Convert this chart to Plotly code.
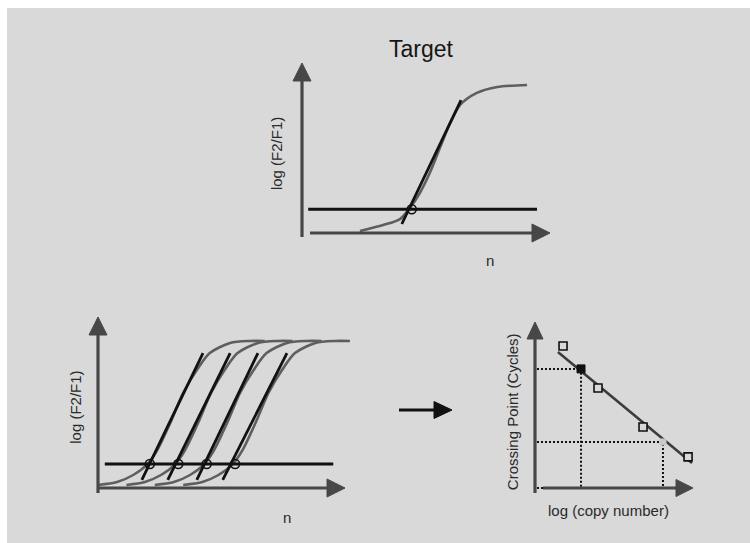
import plotly.graph_objects as go

W, H = 750, 543
FONT = "Liberation Sans, Arial, sans-serif"
BG = "#d9d9d9"
AXIS_C = "#474747"
CURVE_C = "#5e5e5e"
INK = "#111111"

# ---------------- data ----------------
# Upper panel: amplification curve of the target (cycle n vs log(F2/F1))
target_n = [9.35, 13.1, 15.8, 17.4, 19.0, 20.6, 22.3, 23.9, 25.5, 28.2, 31.5, 36.3]
target_f = [0.012, 0.047, 0.082, 0.147, 0.235, 0.353, 0.506, 0.647, 0.753, 0.824, 0.859, 0.871]
target_tangent_n = [16.1, 25.65]
target_tangent_f = [0.053, 0.782]
target_threshold = 0.14
target_threshold_n = [1.0, 37.9]
target_cp = 17.7

# Lower-left panel: dilution series of standards
std_curve_f = [0.018, 0.035, 0.076, 0.135, 0.222, 0.380, 0.556, 0.690, 0.789, 0.848, 0.860, 0.860]
std1_n = [0.0, 3.1, 5.7, 7.9, 9.6, 11.7, 13.8, 16.0, 18.1, 21.4, 24.6, 27.0]
std2_n = [4.6, 7.6, 10.2, 12.4, 14.1, 16.2, 18.3, 20.5, 22.6, 25.9, 29.1, 31.5]
std3_n = [9.2, 12.3, 14.9, 17.1, 18.8, 20.9, 23.0, 25.2, 27.3, 30.6, 33.8, 36.2]
std4_n = [13.8, 16.9, 19.5, 21.7, 23.4, 25.5, 27.6, 29.8, 31.9, 35.2, 38.4, 40.8]
std_tangent_f = [0.047, 0.789]
std1_tangent_n = [7.1, 17.0]
std2_tangent_n = [11.3, 21.4]
std3_tangent_n = [16.0, 25.9]
std4_tangent_n = [20.2, 30.6]
std_threshold = 0.14
std_threshold_n = [1.1, 38.1]
std_cp = [8.4, 13.0, 17.6, 22.2]

# Lower-right panel: standard curve (crossing point vs log copy number)
std_logc = [1.42, 3.19, 5.47, 7.75]
std_cp_cycles = [34.2, 24.1, 14.7, 7.5]
fit_logc = [1.16, 7.95]
fit_cp = [32.8, 6.0]
target_logc = 2.33
target_cp_cycles = 28.7
sample_logc = 6.48
sample_cp_cycles = 11.1

# ---------------- panel geometry (pixel origin + px per unit) ----------------
PANELS = {
    "top": dict(xa="x", ya="y", ox=302, oy=233, sx=6.2, sy=170.0),
    "left": dict(xa="x2", ya="y2", ox=98, oy=488, sx=6.175, sy=171.0),
    "right": dict(xa="x3", ya="y3", ox=535, oy=488, sx=19.75, sy=4.15),
}


def axis_ranges(p):
    xr = [-p["ox"] / p["sx"], (W - p["ox"]) / p["sx"]]
    yr = [(p["oy"] - H) / p["sy"], p["oy"] / p["sy"]]
    return xr, yr


fig = go.Figure()
shapes = []
annotations = []

# background panel with a thin white edge at top and left
shapes.append(dict(type="rect", xref="paper", yref="paper", x0=7 / W, x1=1.0,
                   y0=0.0, y1=1 - 8 / H, fillcolor=BG, line=dict(width=0),
                   layer="below"))


def arrow_axis(p, x0, y0, x1, y1, direction, color=AXIS_C, width=3.2, head=(18, 18)):
    """Axis line with a solid triangular head at (x1, y1)."""
    L, Wd = head
    back = L - 6
    if direction == "up":
        ye = y1 - back / p["sy"]
        xe = x1
        path = f"M0,0 L{-Wd/2},{-L} L{Wd/2},{-L} Z"
    else:
        xe = x1 - back / p["sx"]
        ye = y1
        path = f"M0,0 L{-L},{Wd/2} L{-L},{-Wd/2} Z"
    shapes.append(dict(type="line", xref=p["xa"], yref=p["ya"], x0=x0, y0=y0,
                       x1=xe, y1=ye, line=dict(color=color, width=width)))
    shapes.append(dict(type="path", xref=p["xa"], yref=p["ya"],
                       xsizemode="pixel", ysizemode="pixel",
                       xanchor=x1, yanchor=y1, path=path,
                       fillcolor=color, line=dict(color=color, width=1)))


def line_trace(p, x, y, color, width, dash=None, shape="linear"):
    fig.add_trace(go.Scatter(x=x, y=y, mode="lines", xaxis=p["xa"], yaxis=p["ya"],
                             line=dict(color=color, width=width, dash=dash, shape=shape,
                                       smoothing=0.8),
                             hoverinfo="skip"))


def label(p, x, y, text, size=15, angle=0, color="#2a2a2a"):
    annotations.append(dict(x=x, y=y, xref=p["xa"], yref=p["ya"], text=text,
                            showarrow=False, textangle=angle,
                            font=dict(family=FONT, size=size, color=color),
                            xanchor="center", yanchor="middle"))


# ---------------- top panel ----------------
P = PANELS["top"]
line_trace(P, target_n, target_f, CURVE_C, 2.6, shape="spline")
line_trace(P, target_threshold_n, [target_threshold] * 2, INK, 3)
line_trace(P, target_tangent_n, target_tangent_f, INK, 2.8)
fig.add_trace(go.Scatter(x=[target_cp], y=[target_threshold], mode="markers",
                         xaxis=P["xa"], yaxis=P["ya"], hoverinfo="skip",
                         marker=dict(symbol="circle-open", size=9,
                                     line=dict(color=INK, width=1.6), color=INK)))
arrow_axis(P, 0, -4 / P["sy"], 0, 1.0, "up")
arrow_axis(P, 8 / P["sx"], 0, 40, 0, "right")
label(P, -4.2, 0.47, "log (F2/F1)", angle=-90)
label(P, 30.3, -0.16, "n")
label(P, 19.35, 1.085, "Target", size=23, color="#161616")

# ---------------- lower-left panel ----------------
P = PANELS["left"]
for xs in (std1_n, std2_n, std3_n, std4_n):
    line_trace(P, xs, std_curve_f, CURVE_C, 2.6, shape="spline")
line_trace(P, std_threshold_n, [std_threshold] * 2, INK, 3)
for tn in (std1_tangent_n, std2_tangent_n, std3_tangent_n, std4_tangent_n):
    line_trace(P, tn, std_tangent_f, INK, 2.8)
fig.add_trace(go.Scatter(x=std_cp, y=[std_threshold] * len(std_cp), mode="markers",
                         xaxis=P["xa"], yaxis=P["ya"], hoverinfo="skip",
                         marker=dict(symbol="circle-open", size=9,
                                     line=dict(color=INK, width=1.6), color=INK)))
arrow_axis(P, 0, -5 / P["sy"], 0, 1.0, "up")
arrow_axis(P, 0, 0, 40, 0, "right")
label(P, -3.7, 0.47, "log (F2/F1)", angle=-90)
label(P, 30.6, -0.175, "n")

# ---------------- lower-right panel ----------------
P = PANELS["right"]
dot = "2px,2px"
line_trace(P, [0.1, target_logc, target_logc],
           [target_cp_cycles, target_cp_cycles, 0], INK, 2, dash=dot)
line_trace(P, [0.1, sample_logc, sample_logc, 0.1],
           [sample_cp_cycles, sample_cp_cycles, 0, 0], INK, 2, dash=dot)
line_trace(P, fit_logc, fit_cp, "#3c3c3c", 2.6)
fig.add_trace(go.Scatter(x=std_logc, y=std_cp_cycles, mode="markers",
                         xaxis=P["xa"], yaxis=P["ya"], hoverinfo="skip",
                         marker=dict(symbol="square", size=8, color=BG,
                                     line=dict(color=INK, width=1.6))))
fig.add_trace(go.Scatter(x=[target_logc], y=[target_cp_cycles], mode="markers",
                         xaxis=P["xa"], yaxis=P["ya"], hoverinfo="skip",
                         marker=dict(symbol="square", size=8, color=INK,
                                     line=dict(color=INK, width=1))))
fig.add_trace(go.Scatter(x=[sample_logc], y=[sample_cp_cycles], mode="markers",
                         xaxis=P["xa"], yaxis=P["ya"], hoverinfo="skip",
                         marker=dict(symbol="square", size=7, color="#c9c9c9",
                                     line=dict(color="#c9c9c9", width=0))))
arrow_axis(P, 0, -5 / P["sy"], 0, 40, "up", head=(17, 16))
arrow_axis(P, 8 / P["sx"], 0, 8, 0, "right", head=(17, 17))
label(P, -1.16, 18.3, "Crossing Point (Cycles)", angle=-90)
label(P, 3.7, -5.3, "log (copy number)")

# ---------------- arrow between the lower panels ----------------
shapes.append(dict(type="line", xref="paper", yref="paper",
                   x0=399 / W, x1=440 / W, y0=1 - 410 / H, y1=1 - 410 / H,
                   line=dict(color=INK, width=3.2)))
shapes.append(dict(type="path", xref="paper", yref="paper",
                   xsizemode="pixel", ysizemode="pixel",
                   xanchor=452 / W, yanchor=1 - 410 / H,
                   path="M0,0 L-18,8.5 L-18,-8.5 Z",
                   fillcolor=INK, line=dict(color=INK, width=1)))

layout = dict(width=W, height=H, margin=dict(l=0, r=0, t=0, b=0),
              paper_bgcolor="white", plot_bgcolor="rgba(0,0,0,0)",
              showlegend=False, shapes=shapes, annotations=annotations)
for key, name in (("top", ""), ("left", "2"), ("right", "3")):
    xr, yr = axis_ranges(PANELS[key])
    layout["xaxis" + name] = dict(visible=False, range=xr, domain=[0, 1],
                                  fixedrange=True, anchor="y" + name)
    layout["yaxis" + name] = dict(visible=False, range=yr, domain=[0, 1],
                                  fixedrange=True, anchor="x" + name)
fig.update_layout(**layout)

fig.write_html("out.html")
